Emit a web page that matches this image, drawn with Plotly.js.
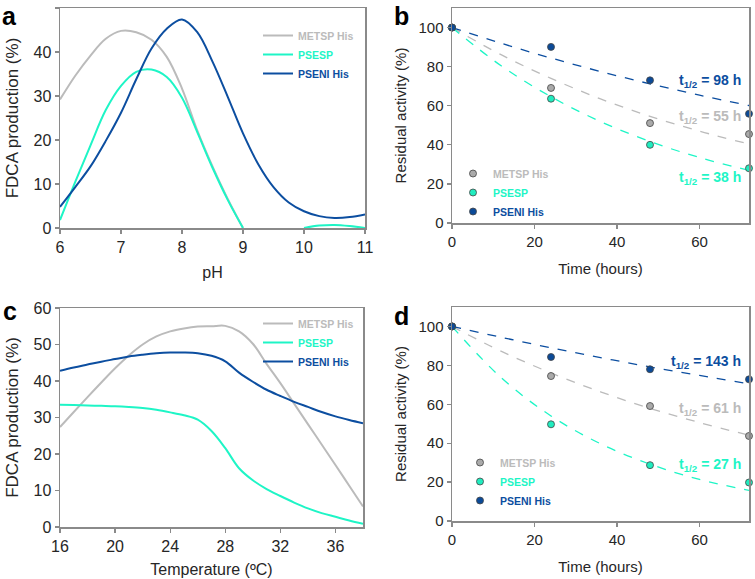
<!DOCTYPE html>
<html>
<head>
<meta charset="utf-8">
<script src="https://cdn.plot.ly/plotly-3.0.1.min.js"></script>
<style>
  body { margin: 0; background: #fff; }
  #chart { width: 755px; height: 579px; }
</style>
</head>
<body>
<div id="chart"></div>
<script>
// series names and colours shared by all four panels
var seriesNames = ["METSP His", "PSESP", "PSENI His"];
var lineColors = ["#bbbbbb", "#1ef5c6", "#0c4ea0"];
var markerColors = ["#aaaaaa", "#20ecbf", "#0b4a98"];

// panel a: FDCA production vs pH
var phX = [6, 6.25, 6.5, 6.75, 7, 7.25, 7.5, 7.75, 8, 8.25, 8.5, 8.75, 9,
  9.25, 9.5, 9.75, 10, 10.25, 10.5, 10.75, 11];
var phMetsp = [29.2, 34.6, 39.2, 43, 44.8, 44.5, 42.8, 38.9, 31.7, 22.2, 14, 6.6, 0,
  null, null, null, null, null, null, null, null];
var phPsesp = [1.8, 10.5, 18.8, 26.8, 32.3, 35.5, 36, 34.3, 29.6, 21.8, 13.7, 6.4, 0,
  null, null, null, 0, 0.55, 0.7, 0.45, 0];
var phPseni = [4.8, 9.3, 14, 19.8, 26.2, 33.8, 40.8, 45.3, 47.4, 44.5, 37.8, 29.8, 21.5,
  14.5, 9.3, 5.8, 3.8, 2.7, 2.3, 2.5, 3.1];

// panel c: FDCA production vs temperature
var tempX = [16, 17, 18, 19, 20, 21, 22, 23, 24, 25, 26, 27, 28, 29, 30, 31, 32,
  33, 34, 35, 36, 37, 38];
var tempMetsp = [27.4, 31.5, 35.6, 39.6, 43.5, 47, 50, 52.2, 53.6, 54.4, 54.9, 55,
  55.1, 53.6, 50.2, 44.7, 39.4, 33.8, 28.2, 22.6, 17, 11.3, 5.6];
var tempPsesp = [33.5, 33.4, 33.3, 33.2, 33.1, 32.9, 32.6, 32.1, 31.4, 30.6, 29.4,
  26.3, 21.6, 16.1, 12.8, 10.4, 8.5, 6.7, 5.1, 3.8, 2.8, 1.8, 0.9];
var tempPseni = [42.8, 43.7, 44.5, 45.3, 46, 46.7, 47.2, 47.6, 47.8, 47.8, 47.6, 46.9,
  45.4, 42.3, 39.8, 37.6, 35.9, 34.3, 32.9, 31.5, 30.3, 29.3, 28.4];

// panels b and d: residual activity over time
var timeX = [0, 24, 48, 72];
var fitX = [0, 12, 24, 36, 48, 60, 72];

var bMetsp = [100, 69.1, 51.1, 45.5];
var bPsesp = [100, 63.6, 40, 28];
var bPseni = [100, 90.1, 73, 55.9];
var bFitMetsp = [100, 86, 74, 63.5, 54.6, 47, 40.4];
var bFitPsesp = [100, 80.3, 64.6, 51.9, 41.7, 33.5, 26.9];
var bFitPseni = [100, 91.9, 84.4, 77.5, 71.2, 65.4, 60.1];
var bHalfLife = ["55 h", "38 h", "98 h"];

var dMetsp = [100, 74.5, 59.1, 43.7];
var dPsesp = [100, 49.7, 28.7, 19.8];
var dPseni = [100, 84.3, 78, 72.8];
var dFitMetsp = [100, 87.2, 76.1, 66.4, 57.9, 50.6, 44.1];
var dFitPsesp = [100, 73.5, 54, 39.7, 29.2, 21.4, 15.7];
var dFitPseni = [100, 94.4, 89, 84, 79.2, 74.8, 70.5];
var dHalfLife = ["61 h", "27 h", "143 h"];

var font = "Liberation Sans, Arial, sans-serif";

function legendName(i) {
  return "<span style='color:" + lineColors[i] + "'><b>" + seriesNames[i] + "</b></span>";
}

function curveTraces(x, ys, xa, ya, legendId) {
  return ys.map(function (y, i) {
    return {
      x: x, y: y, xaxis: xa, yaxis: ya,
      type: "scatter", mode: "lines",
      line: {color: lineColors[i], width: 2, shape: "spline", smoothing: 1},
      name: legendName(i), legend: legendId,
      connectgaps: false
    };
  });
}

function decayTraces(fits, points, xa, ya, legendId) {
  var out = [];
  fits.forEach(function (y, i) {
    out.push({
      x: fitX, y: y, xaxis: xa, yaxis: ya,
      type: "scatter", mode: "lines", showlegend: false, hoverinfo: "skip",
      line: {color: lineColors[i], width: 1.3, dash: "dash", shape: "spline"}
    });
  });
  points.forEach(function (y, i) {
    out.push({
      x: timeX, y: y, xaxis: xa, yaxis: ya,
      type: "scatter", mode: "markers", cliponaxis: false,
      marker: {color: markerColors[i], size: 7, line: {color: "#444", width: 0.8}},
      name: legendName(i), legend: legendId
    });
  });
  return out;
}

var data = []
  .concat(curveTraces(phX, [phMetsp, phPsesp, phPseni], "x", "y", "legend"))
  .concat(decayTraces([bFitMetsp, bFitPsesp, bFitPseni], [bMetsp, bPsesp, bPseni], "x2", "y2", "legend2"))
  .concat(curveTraces(tempX, [tempMetsp, tempPsesp, tempPseni], "x3", "y3", "legend3"))
  .concat(decayTraces([dFitMetsp, dFitPsesp, dFitPseni], [dMetsp, dPsesp, dPseni], "x4", "y4", "legend4"));

function px(v) { return v / 755; }
function py(v) { return 1 - v / 579; }

function axis(size, extra) {
  var base = {
    showline: true, mirror: true, linecolor: "#8a8a8a", linewidth: 1.5,
    ticks: "outside", ticklen: 4, tickcolor: "#8a8a8a", tickwidth: 1.2,
    showgrid: false, zeroline: false, fixedrange: true,
    tickfont: {family: font, size: size, color: "#262626"}
  };
  return Object.assign(base, extra);
}

function axTitle(text, size, standoff) {
  return {text: text, font: {family: font, size: size, color: "#262626"}, standoff: standoff};
}

function legendBox(left, top) {
  return {
    x: px(left), y: py(top), xanchor: "left", yanchor: "top",
    bgcolor: "rgba(0,0,0,0)", borderwidth: 0, tracegroupgap: 0,
    font: {family: font, size: 10.5}
  };
}

function halfLifeNotes(labels, ys, xa, ya) {
  return labels.map(function (t, i) {
    return {
      xref: xa, yref: ya, x: 70.5, y: ys[i], xanchor: "right", yanchor: "middle",
      showarrow: false, text: "<b>t<sub>1/2</sub> = " + t + "</b>",
      font: {family: font, size: 14, color: lineColors[i]}
    };
  });
}

function panelLetter(letter, x, y) {
  return {
    xref: "paper", yref: "paper", x: px(x), y: py(y), xanchor: "left", yanchor: "top",
    showarrow: false, text: "<b>" + letter + "</b>",
    font: {family: font, size: 25, color: "#000"}
  };
}

var layout = {
  width: 755, height: 579,
  margin: {l: 0, r: 0, t: 0, b: 0},
  paper_bgcolor: "#fff", plot_bgcolor: "#fff",
  font: {family: font},
  xaxis: axis(16, {domain: [px(60), px(365)], anchor: "y", range: [6, 11], dtick: 1,
    title: axTitle("pH", 16, 12)}),
  yaxis: axis(16, {domain: [py(228), py(8)], anchor: "x", range: [0, 50], dtick: 10,
    title: axTitle("FDCA production (%)", 17, 10)}),
  xaxis2: axis(15, {domain: [px(452), px(749)], anchor: "y2", range: [0, 72],
    tickvals: [0, 20, 40, 60], title: axTitle("Time (hours)", 15, 15)}),
  yaxis2: axis(15, {domain: [py(223), py(8)], anchor: "x2", range: [0, 110],
    tickvals: [0, 20, 40, 60, 80, 100], title: axTitle("Residual activity (%)", 15, 8)}),
  xaxis3: axis(16, {domain: [px(60), px(363)], anchor: "y3", range: [16, 38],
    tickvals: [16, 20, 24, 28, 32, 36], title: axTitle("Temperature (ºC)", 16, 10)}),
  yaxis3: axis(16, {domain: [py(527), py(308)], anchor: "x3", range: [0, 60], dtick: 10,
    title: axTitle("FDCA production (%)", 17, 10)}),
  xaxis4: axis(15, {domain: [px(452), px(749)], anchor: "y4", range: [0, 72],
    tickvals: [0, 20, 40, 60], title: axTitle("Time (hours)", 15, 15)}),
  yaxis4: axis(15, {domain: [py(521), py(307)], anchor: "x4", range: [0, 110],
    tickvals: [0, 20, 40, 60, 80, 100], title: axTitle("Residual activity (%)", 15, 8)}),
  legend: legendBox(258, 21),
  legend2: legendBox(453, 159),
  legend3: legendBox(258, 309),
  legend4: legendBox(460, 448),
  annotations: []
    .concat(halfLifeNotes(bHalfLife, [54.4, 23, 72.8], "x2", "y2"))
    .concat(halfLifeNotes(dHalfLife, [57.8, 28.7, 81.7], "x4", "y4"))
    .concat([
      panelLetter("a", 0, 0),
      panelLetter("b", 392, 0),
      panelLetter("c", 1, 295),
      panelLetter("d", 392, 300)
    ])
};

Plotly.newPlot("chart", data, layout, {staticPlot: true, responsive: false});
</script>
</body>
</html>
